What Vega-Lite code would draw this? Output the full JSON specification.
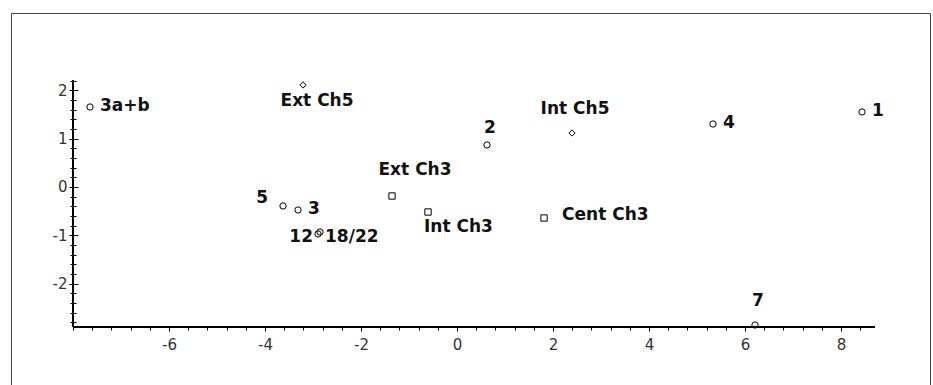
{
  "$schema": "https://vega.github.io/schema/vega-lite/v6.json",
  "width": 919,
  "height": 372,
  "autosize": {"type": "none"},
  "padding": {"left": 11, "top": 13, "right": 3, "bottom": 0},
  "background": "#ffffff",
  "config": {
    "view": {"stroke": null},
    "axis": {
      "grid": false, "title": null, "tickColor": "#000000", "tickWidth": 1, "domainColor": "#444444", "domainWidth": 1,
      "labelFont": "DejaVu Sans", "labelFontSize": 15, "labelColor": "#333333", "labelFontWeight": "normal"
    }
  },
  "data": {
    "values": [
      {"label": "3a+b", "kind": "sample", "x": -7.646, "y": 1.656},
      {"label": "Ext Ch5", "kind": "ch5", "x": -3.208, "y": 2.112},
      {"label": "Int Ch5", "kind": "ch5", "x": 2.396, "y": 1.118},
      {"label": "2", "kind": "sample", "x": 0.625, "y": 0.870},
      {"label": "4", "kind": "sample", "x": 5.333, "y": 1.304},
      {"label": "1", "kind": "sample", "x": 8.438, "y": 1.553},
      {"label": "Ext Ch3", "kind": "ch3", "x": -1.354, "y": -0.186},
      {"label": "Int Ch3", "kind": "ch3", "x": -0.604, "y": -0.518},
      {"label": "Cent Ch3", "kind": "ch3", "x": 1.813, "y": -0.642},
      {"label": "5", "kind": "sample", "x": -3.625, "y": -0.393},
      {"label": "3", "kind": "sample", "x": -3.313, "y": -0.476},
      {"label": "12", "kind": "sample", "x": -2.896, "y": -0.973},
      {"label": "18/22", "kind": "sample", "x": -2.854, "y": -0.932},
      {"label": "7", "kind": "sample", "x": 6.208, "y": -2.857}
    ]
  },
  "resolve": {"axis": {"x": "independent", "y": "independent"}},
  "layer": [
    {
      "mark": {"type": "rule", "color": "#000000", "strokeWidth": 1.6},
      "encoding": {
        "x": {
          "datum": -8, "type": "quantitative",
          "scale": {"domain": [-9.292, 9.854], "nice": false, "zero": false},
          "axis": {
            "orient": "bottom", "offset": -58, "domain": false, "labels": true, "ticks": true,
            "values": [-6, -4, -2, 0, 2, 4, 6, 8], "tickSize": 4, "labelPadding": 6,
            "labelFont": "DejaVu Sans", "labelFontSize": 15,
            "labelExpr": "datum.value < 0 ? '-' + format(-datum.value, 'd') : format(datum.value, 'd')"
          }
        },
        "x2": {"datum": 8.7},
        "y": {
          "datum": -2.9, "type": "quantitative",
          "scale": {"domain": [-4.099, 3.602], "nice": false, "zero": false},
          "axis": {
            "orient": "left", "offset": -62, "domain": false, "labels": true, "ticks": true,
            "values": [-2, -1, 0, 1, 2], "tickSize": 4, "labelPadding": 2,
            "labelFont": "DejaVu Sans", "labelFontSize": 15,
            "labelBaseline": "middle",
            "labelExpr": "datum.value < 0 ? '-' + format(-datum.value, 'd') : format(datum.value, 'd')"
          }
        }
      }
    },
    {
      "mark": {"type": "rule", "color": "#000000", "strokeWidth": 1.6},
      "encoding": {
        "x": {
          "datum": -8, "type": "quantitative",
          "axis": {
            "orient": "bottom", "offset": -58, "domain": false, "labels": false, "ticks": true, "tickSize": 3,
            "values": [-8, -7.6, -7.2, -6.8, -6.4, -6, -5.6, -5.2, -4.8, -4.4, -4, -3.6, -3.2, -2.8, -2.4, -2, -1.6, -1.2, -0.8, -0.4, 0, 0.4, 0.8, 1.2, 1.6, 2, 2.4, 2.8, 3.2, 3.6, 4, 4.4, 4.8, 5.2, 5.6, 6, 6.4, 6.8, 7.2, 7.6, 8, 8.4]
          }
        },
        "y": {
          "datum": -2.9, "type": "quantitative",
          "axis": {
            "orient": "left", "offset": -62, "domain": false, "labels": false, "ticks": true, "tickSize": 3,
            "values": [-2.8, -2.6, -2.4, -2.2, -2, -1.8, -1.6, -1.4, -1.2, -1, -0.8, -0.6, -0.4, -0.2, 0, 0.2, 0.4, 0.6, 0.8, 1, 1.2, 1.4, 1.6, 1.8, 2, 2.2]
          }
        },
        "y2": {"datum": 2.2}
      }
    },
    {
      "mark": {"type": "point", "filled": false, "stroke": "#000000", "strokeWidth": 1, "size": 40, "opacity": 1},
      "encoding": {
        "x": {
          "field": "x", "type": "quantitative",
          "axis": {"orient": "top", "offset": 0, "domain": true, "ticks": false, "labels": false}
        },
        "y": {
          "field": "y", "type": "quantitative",
          "axis": {
            "orient": "left", "offset": -62, "domain": false, "labels": false, "ticks": true, "tickSize": -5,
            "values": [-2, -1, 0, 1, 2]
          }
        },
        "shape": {
          "field": "kind", "type": "nominal",
          "scale": {"domain": ["sample", "ch5", "ch3"], "range": ["circle", "diamond", "square"]},
          "legend": null
        }
      }
    },
    {
      "transform": [{"filter": {"field": "label", "oneOf": ["3a+b", "3", "1", "4"]}}],
      "mark": {"type": "text", "align": "left", "baseline": "middle", "dx": 10, "dy": -1, "font": "DejaVu Sans", "fontWeight": "bold", "fontSize": 17, "color": "#111111"},
      "encoding": {
        "x": {"field": "x", "type": "quantitative", "axis": null},
        "y": {
          "field": "y", "type": "quantitative",
          "axis": {
            "orient": "left", "offset": -62, "domain": false, "labels": false, "ticks": true, "tickSize": -3,
            "values": [-2.8, -2.6, -2.4, -2.2, -2, -1.8, -1.6, -1.4, -1.2, -1, -0.8, -0.6, -0.4, -0.2, 0, 0.2, 0.4, 0.6, 0.8, 1, 1.2, 1.4, 1.6, 1.8, 2, 2.2]
          }
        },
        "text": {"field": "label"}
      }
    },
    {
      "transform": [{"filter": {"field": "label", "equal": "Cent Ch3"}}],
      "mark": {"type": "text", "align": "left", "baseline": "middle", "dx": 18, "dy": -3, "font": "DejaVu Sans", "fontWeight": "bold", "fontSize": 17, "color": "#111111"},
      "encoding": {
        "x": {"field": "x", "type": "quantitative", "axis": null},
        "y": {
          "field": "y", "type": "quantitative",
          "axis": {"orient": "left", "offset": 0, "domain": true, "ticks": false, "labels": false}
        },
        "text": {"field": "label"}
      }
    },
    {
      "transform": [{"filter": {"field": "label", "equal": "18/22"}}],
      "mark": {"type": "text", "align": "left", "baseline": "middle", "dx": 5, "dy": 5, "font": "DejaVu Sans", "fontWeight": "bold", "fontSize": 17, "color": "#111111"},
      "encoding": {
        "x": {"field": "x", "type": "quantitative", "axis": null},
        "y": {
          "field": "y", "type": "quantitative",
          "axis": {"orient": "right", "offset": 0, "domain": true, "ticks": false, "labels": false}
        },
        "text": {"field": "label"}
      }
    },
    {
      "transform": [{"filter": {"field": "label", "equal": "12"}}],
      "mark": {"type": "text", "align": "right", "baseline": "middle", "dx": -5, "dy": 3, "font": "DejaVu Sans", "fontWeight": "bold", "fontSize": 17, "color": "#111111"},
      "encoding": {
        "x": {"field": "x", "type": "quantitative", "axis": null},
        "y": {"field": "y", "type": "quantitative", "axis": null},
        "text": {"field": "label"}
      }
    },
    {
      "transform": [{"filter": {"field": "label", "equal": "5"}}],
      "mark": {"type": "text", "align": "right", "baseline": "middle", "dx": -15, "dy": -8, "font": "DejaVu Sans", "fontWeight": "bold", "fontSize": 17, "color": "#111111"},
      "encoding": {
        "x": {"field": "x", "type": "quantitative", "axis": null},
        "y": {"field": "y", "type": "quantitative", "axis": null},
        "text": {"field": "label"}
      }
    },
    {
      "transform": [{"filter": {"field": "label", "oneOf": ["Int Ch5", "7"]}}],
      "mark": {"type": "text", "align": "center", "baseline": "middle", "dx": 3, "dy": -24, "font": "DejaVu Sans", "fontWeight": "bold", "fontSize": 17, "color": "#111111"},
      "encoding": {
        "x": {"field": "x", "type": "quantitative", "axis": null},
        "y": {"field": "y", "type": "quantitative", "axis": null},
        "text": {"field": "label"}
      }
    },
    {
      "transform": [{"filter": {"field": "label", "equal": "2"}}],
      "mark": {"type": "text", "align": "center", "baseline": "middle", "dx": 3, "dy": -17, "font": "DejaVu Sans", "fontWeight": "bold", "fontSize": 17, "color": "#111111"},
      "encoding": {
        "x": {"field": "x", "type": "quantitative", "axis": null},
        "y": {"field": "y", "type": "quantitative", "axis": null},
        "text": {"field": "label"}
      }
    },
    {
      "transform": [{"filter": {"field": "label", "equal": "Ext Ch5"}}],
      "mark": {"type": "text", "align": "center", "baseline": "middle", "dx": 14, "dy": 16, "font": "DejaVu Sans", "fontWeight": "bold", "fontSize": 17, "color": "#111111"},
      "encoding": {
        "x": {"field": "x", "type": "quantitative", "axis": null},
        "y": {"field": "y", "type": "quantitative", "axis": null},
        "text": {"field": "label"}
      }
    },
    {
      "transform": [{"filter": {"field": "label", "equal": "Int Ch3"}}],
      "mark": {"type": "text", "align": "left", "baseline": "middle", "dx": -4, "dy": 15, "font": "DejaVu Sans", "fontWeight": "bold", "fontSize": 17, "color": "#111111"},
      "encoding": {
        "x": {"field": "x", "type": "quantitative", "axis": null},
        "y": {"field": "y", "type": "quantitative", "axis": null},
        "text": {"field": "label"}
      }
    },
    {
      "transform": [{"filter": {"field": "label", "equal": "Ext Ch3"}}],
      "mark": {"type": "text", "align": "center", "baseline": "middle", "dx": 23, "dy": -26, "font": "DejaVu Sans", "fontWeight": "bold", "fontSize": 17, "color": "#111111"},
      "encoding": {
        "x": {"field": "x", "type": "quantitative", "axis": null},
        "y": {"field": "y", "type": "quantitative", "axis": null},
        "text": {"field": "label"}
      }
    }
  ]
}
